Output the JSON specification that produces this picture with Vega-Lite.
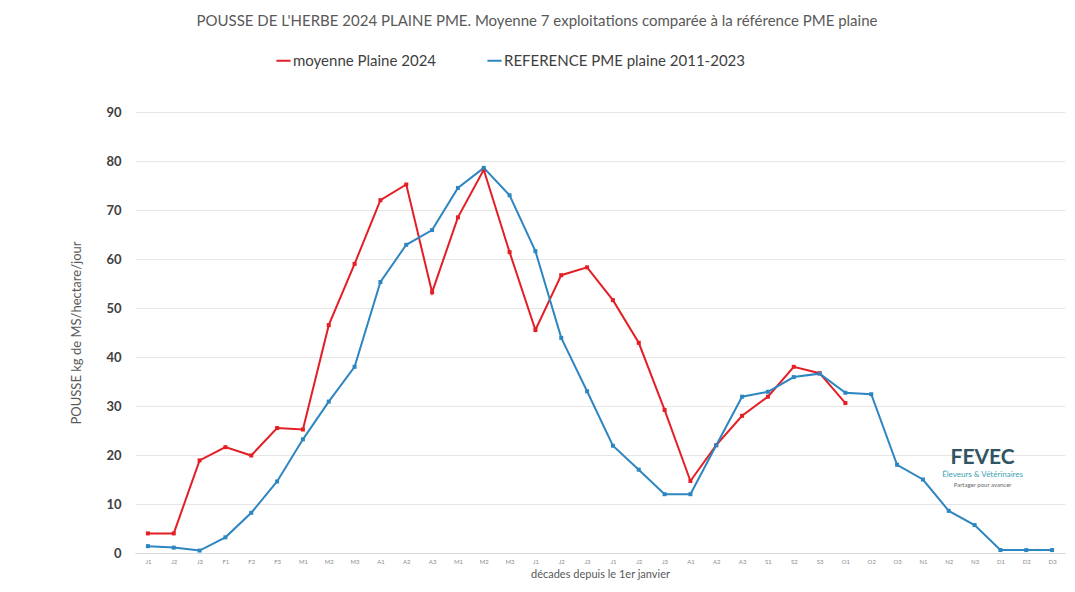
{
  "$schema": "https://vega.github.io/schema/vega-lite/v6.json",
  "autosize": "none",
  "width": 930,
  "height": 441,
  "padding": {"left": 135, "top": 112, "right": 10, "bottom": 39},
  "background": "white",
  "config": {"font": "Lato", "view": {"stroke": null}},
  "title": {
    "text": "POUSSE DE L'HERBE 2024 PLAINE PME. Moyenne 7 exploitations comparée à la référence PME plaine",
    "fontSize": 15, "fontWeight": "normal", "color": "#595959", "font": "Lato",
    "anchor": "middle", "dx": -63, "offset": 23
  },
  "data": {"values": [
    {"i":1,"s":"moyenne Plaine 2024","v":4},
    {"i":2,"s":"moyenne Plaine 2024","v":4},
    {"i":3,"s":"moyenne Plaine 2024","v":18.9},
    {"i":4,"s":"moyenne Plaine 2024","v":21.6},
    {"i":5,"s":"moyenne Plaine 2024","v":19.9},
    {"i":6,"s":"moyenne Plaine 2024","v":25.5},
    {"i":7,"s":"moyenne Plaine 2024","v":25.2},
    {"i":8,"s":"moyenne Plaine 2024","v":46.5},
    {"i":9,"s":"moyenne Plaine 2024","v":59},
    {"i":10,"s":"moyenne Plaine 2024","v":72},
    {"i":11,"s":"moyenne Plaine 2024","v":75.2},
    {"i":12,"s":"moyenne Plaine 2024","v":53.2},
    {"i":13,"s":"moyenne Plaine 2024","v":68.5},
    {"i":14,"s":"moyenne Plaine 2024","v":78.2},
    {"i":15,"s":"moyenne Plaine 2024","v":61.4},
    {"i":16,"s":"moyenne Plaine 2024","v":45.5},
    {"i":17,"s":"moyenne Plaine 2024","v":56.7},
    {"i":18,"s":"moyenne Plaine 2024","v":58.3},
    {"i":19,"s":"moyenne Plaine 2024","v":51.6},
    {"i":20,"s":"moyenne Plaine 2024","v":42.9},
    {"i":21,"s":"moyenne Plaine 2024","v":29.2},
    {"i":22,"s":"moyenne Plaine 2024","v":14.7},
    {"i":23,"s":"moyenne Plaine 2024","v":22},
    {"i":24,"s":"moyenne Plaine 2024","v":28},
    {"i":25,"s":"moyenne Plaine 2024","v":31.9},
    {"i":26,"s":"moyenne Plaine 2024","v":38},
    {"i":27,"s":"moyenne Plaine 2024","v":36.7},
    {"i":28,"s":"moyenne Plaine 2024","v":30.6},
    {"i":1,"s":"REFERENCE PME plaine 2011-2023","v":1.4},
    {"i":2,"s":"REFERENCE PME plaine 2011-2023","v":1.1},
    {"i":3,"s":"REFERENCE PME plaine 2011-2023","v":0.5},
    {"i":4,"s":"REFERENCE PME plaine 2011-2023","v":3.2},
    {"i":5,"s":"REFERENCE PME plaine 2011-2023","v":8.2},
    {"i":6,"s":"REFERENCE PME plaine 2011-2023","v":14.6},
    {"i":7,"s":"REFERENCE PME plaine 2011-2023","v":23.2},
    {"i":8,"s":"REFERENCE PME plaine 2011-2023","v":30.9},
    {"i":9,"s":"REFERENCE PME plaine 2011-2023","v":38},
    {"i":10,"s":"REFERENCE PME plaine 2011-2023","v":55.3},
    {"i":11,"s":"REFERENCE PME plaine 2011-2023","v":62.9},
    {"i":12,"s":"REFERENCE PME plaine 2011-2023","v":65.9},
    {"i":13,"s":"REFERENCE PME plaine 2011-2023","v":74.5},
    {"i":14,"s":"REFERENCE PME plaine 2011-2023","v":78.6},
    {"i":15,"s":"REFERENCE PME plaine 2011-2023","v":73},
    {"i":16,"s":"REFERENCE PME plaine 2011-2023","v":61.6},
    {"i":17,"s":"REFERENCE PME plaine 2011-2023","v":43.9},
    {"i":18,"s":"REFERENCE PME plaine 2011-2023","v":33},
    {"i":19,"s":"REFERENCE PME plaine 2011-2023","v":21.9},
    {"i":20,"s":"REFERENCE PME plaine 2011-2023","v":17},
    {"i":21,"s":"REFERENCE PME plaine 2011-2023","v":12},
    {"i":22,"s":"REFERENCE PME plaine 2011-2023","v":12},
    {"i":23,"s":"REFERENCE PME plaine 2011-2023","v":22},
    {"i":24,"s":"REFERENCE PME plaine 2011-2023","v":31.9},
    {"i":25,"s":"REFERENCE PME plaine 2011-2023","v":32.9},
    {"i":26,"s":"REFERENCE PME plaine 2011-2023","v":35.9},
    {"i":27,"s":"REFERENCE PME plaine 2011-2023","v":36.6},
    {"i":28,"s":"REFERENCE PME plaine 2011-2023","v":32.7},
    {"i":29,"s":"REFERENCE PME plaine 2011-2023","v":32.4},
    {"i":30,"s":"REFERENCE PME plaine 2011-2023","v":18},
    {"i":31,"s":"REFERENCE PME plaine 2011-2023","v":15},
    {"i":32,"s":"REFERENCE PME plaine 2011-2023","v":8.6},
    {"i":33,"s":"REFERENCE PME plaine 2011-2023","v":5.7},
    {"i":34,"s":"REFERENCE PME plaine 2011-2023","v":0.6},
    {"i":35,"s":"REFERENCE PME plaine 2011-2023","v":0.6},
    {"i":36,"s":"REFERENCE PME plaine 2011-2023","v":0.6}
  ]},
  "encoding": {
    "x": {
      "field": "i", "type": "ordinal",
      "scale": {"type": "point", "padding": 0.5, "domain": [1,2,3,4,5,6,7,8,9,10,11,12,13,14,15,16,17,18,19,20,21,22,23,24,25,26,27,28,29,30,31,32,33,34,35,36]},
      "axis": {
        "title": "décades depuis le 1er janvier",
        "titleFontSize": 11, "titleFontWeight": "normal", "titleColor": "#595959", "titlePadding": 4,
        "labelExpr": "['J1','J2','J3','F1','F2','F3','M1','M2','M3','A1','A2','A3','M1','M2','M3','J1','J2','J3','J1','J2','J3','A1','A2','A3','S1','S2','S3','O1','O2','O3','N1','N2','N3','D1','D2','D3'][datum.value-1]",
        "labelAngle": 0, "labelFontSize": 6, "labelColor": "#8c8c8c", "labelPadding": 5,
        "ticks": false, "domain": true, "domainColor": "#d9d9d9", "grid": false
      }
    },
    "y": {
      "field": "v", "type": "quantitative",
      "scale": {"domain": [0, 90]},
      "axis": {
        "title": "POUSSE kg de MS/hectare/jour",
        "titleFontSize": 13, "titleFontWeight": "normal", "titleColor": "#595959", "titlePadding": 22,
        "values": [0,10,20,30,40,50,60,70,80,90],
        "labelFontSize": 13, "labelFontWeight": "bold", "labelColor": "#404040", "labelPadding": 14,
        "ticks": false, "domain": false, "grid": true, "gridColor": "#e6e6e6"
      }
    },
    "color": {
      "field": "s", "type": "nominal",
      "scale": {"domain": ["moyenne Plaine 2024", "REFERENCE PME plaine 2011-2023"], "range": ["#e41e25", "#2e86c1"]},
      "legend": {
        "title": null, "orient": "none", "direction": "horizontal",
        "legendX": 140, "legendY": -60,
        "labelFontSize": 15, "labelColor": "#404040", "labelFont": "Lato", "labelLimit": 0,
        "symbolType": "stroke", "symbolSize": 200, "symbolStrokeWidth": 2,
        "columnPadding": 46, "labelOffset": 1
      }
    }
  },
  "layer": [
    {"mark": {"type": "line", "strokeWidth": 2, "point": {"filled": true, "size": 16, "shape": "square"}}},
    {
      "transform": [{"filter": "datum.i == 1 && datum.s == 'moyenne Plaine 2024'"}],
      "mark": {"type": "text", "text": "FEVEC", "fontSize": 21, "fontWeight": "bold", "dx": 8},
      "encoding": {"x": {"datum": 33}, "y": {"datum": 19.4}, "color": {"value": "#2f5563"}}
    },
    {
      "transform": [{"filter": "datum.i == 1 && datum.s == 'moyenne Plaine 2024'"}],
      "mark": {"type": "text", "text": "Éleveurs & Vétérinaires", "fontSize": 8, "dx": 8},
      "encoding": {"x": {"datum": 33}, "y": {"datum": 16}, "color": {"value": "#3a9fb3"}}
    },
    {
      "transform": [{"filter": "datum.i == 1 && datum.s == 'moyenne Plaine 2024'"}],
      "mark": {"type": "text", "text": "Partager pour avancer", "fontSize": 6, "dx": 8},
      "encoding": {"x": {"datum": 33}, "y": {"datum": 13.9}, "color": {"value": "#666666"}}
    }
  ]
}
